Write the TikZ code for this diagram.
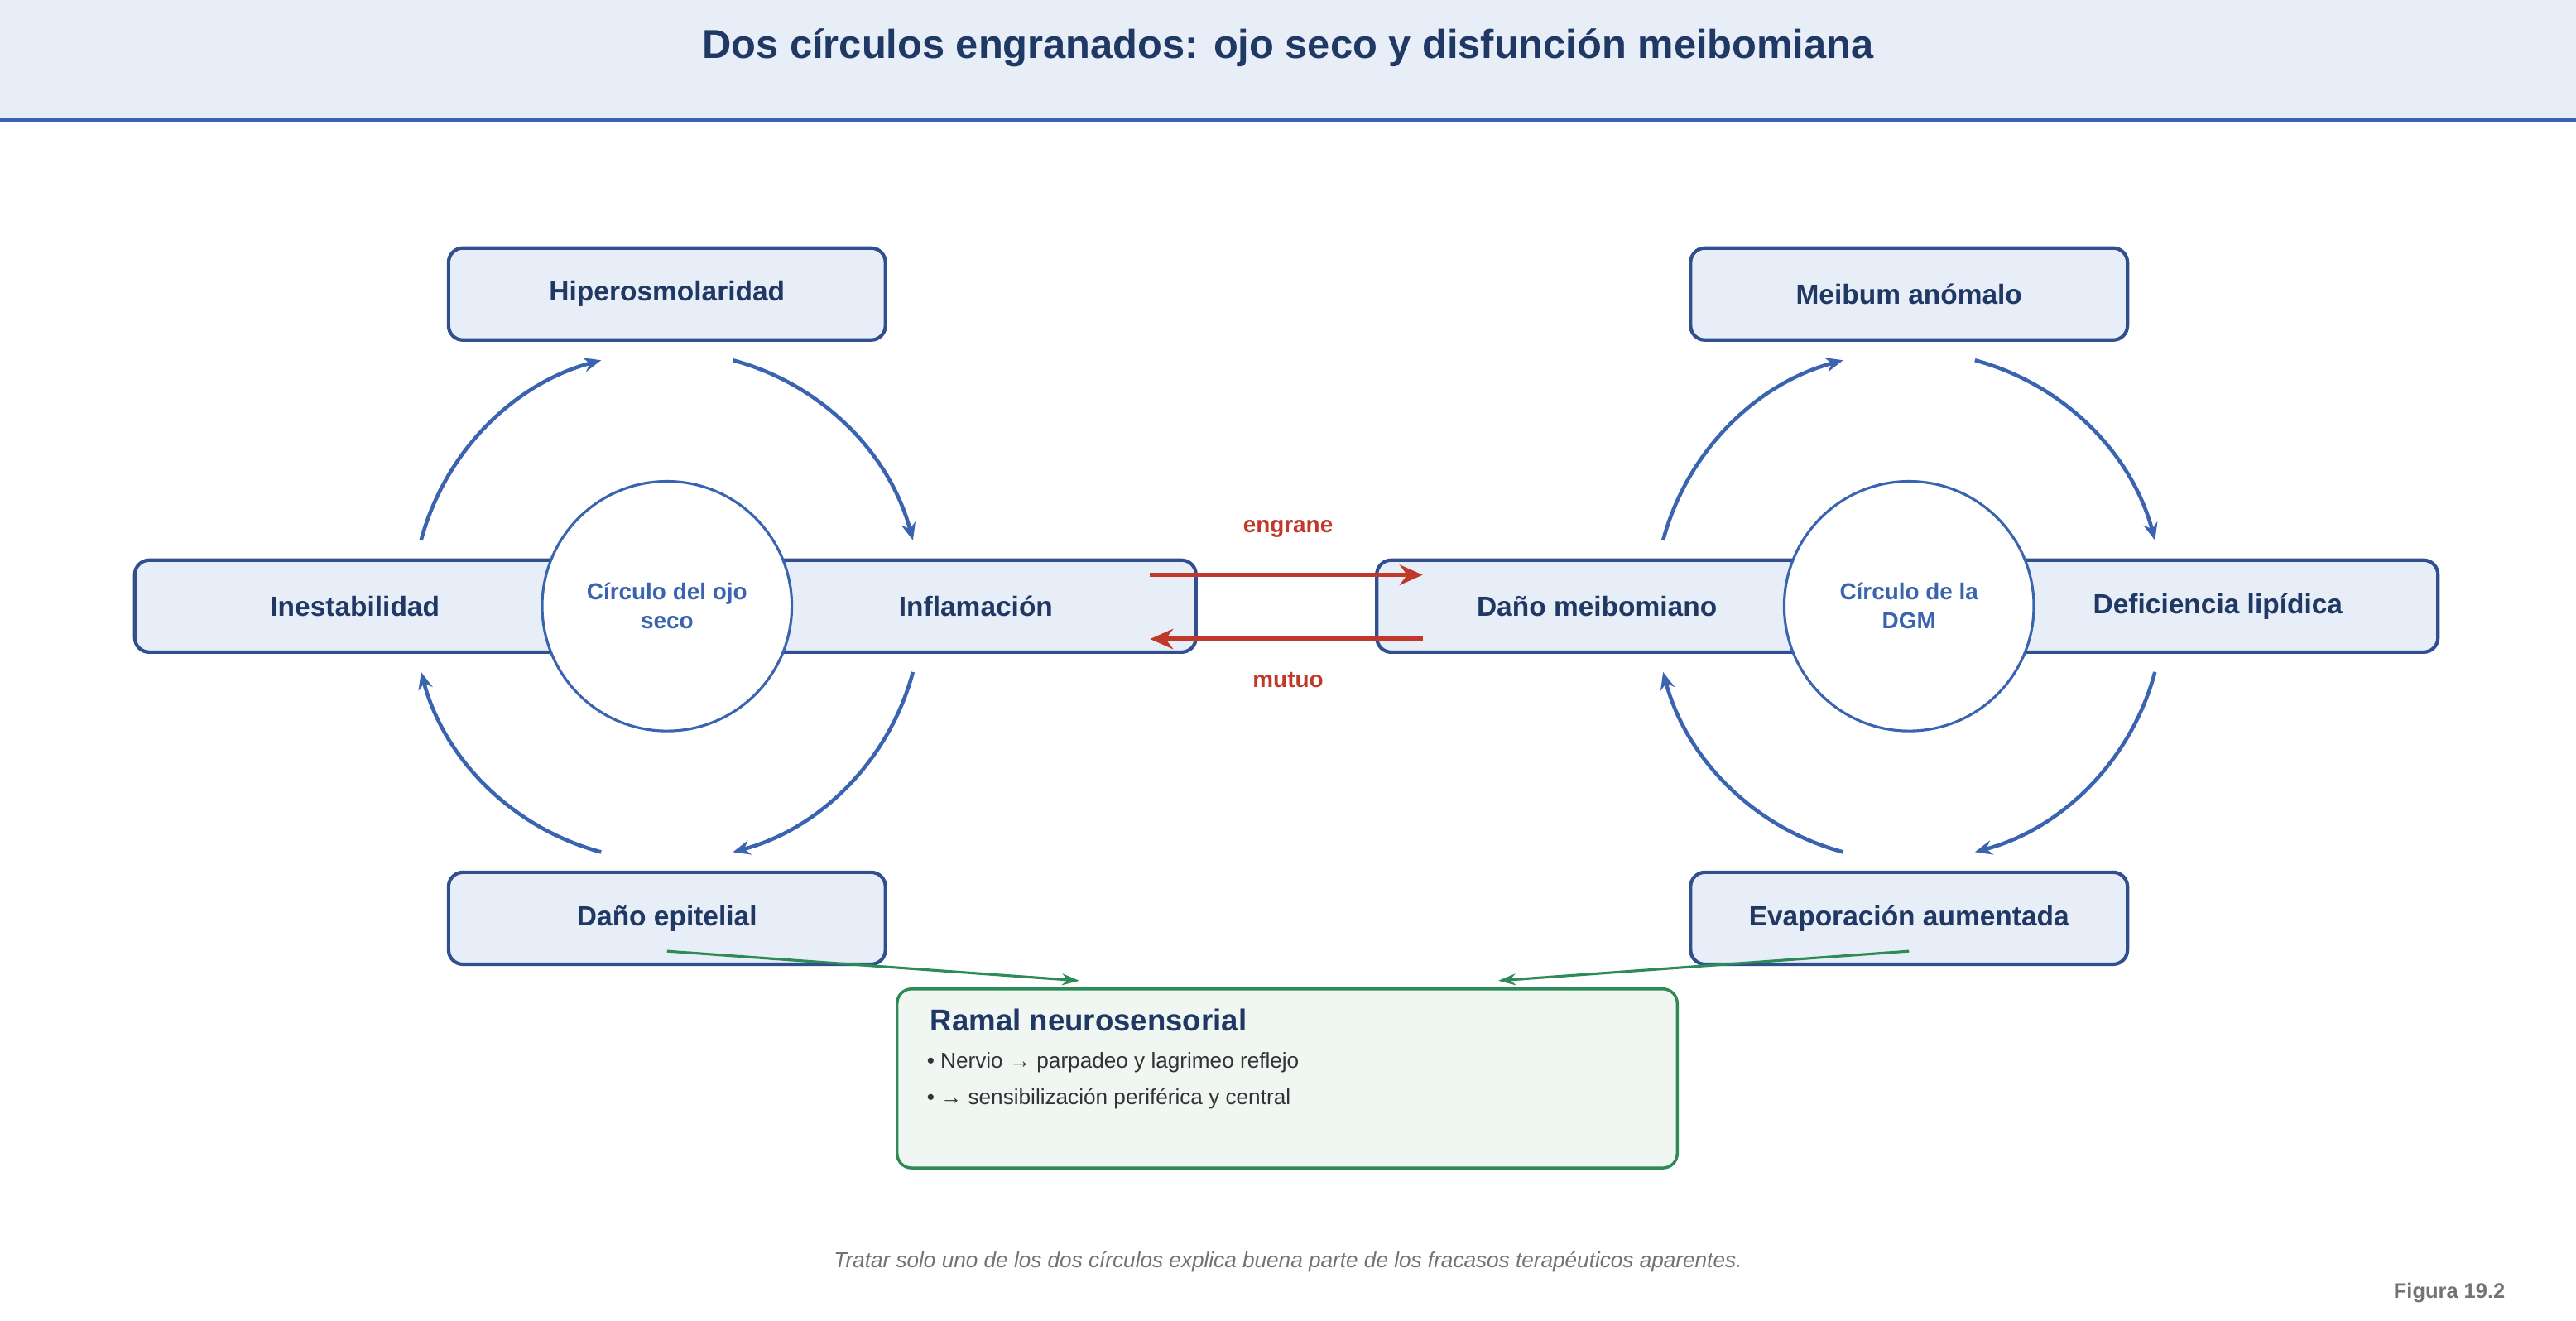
\documentclass[tikz,border=0pt]{standalone}
\usepackage{fontspec}
\setmainfont{Liberation Sans}
\usetikzlibrary{calc,arrows.meta}
\definecolor{navy}{HTML}{1F3864}
\definecolor{boxblue}{HTML}{2F4F8F}
\definecolor{arcblue}{HTML}{3A63B0}
\definecolor{paleblue}{HTML}{E8EEF7}
\definecolor{redarr}{HTML}{C0392B}
\definecolor{grn}{HTML}{2E8B57}
\definecolor{palegrn}{HTML}{F0F7F2}
\tikzset{
    stage/.style={draw=boxblue, line width=1.2pt, fill=paleblue, rounded corners=5pt,
        minimum width=5.32cm, minimum height=1.12cm, text=navy,
        font=\fontsize{9.6}{11}\selectfont\bfseries},
    hub/.style={circle, draw=arcblue, line width=0.9pt, fill=white, minimum size=3.04cm,
        align=center, text=arcblue, font=\fontsize{8}{10}\selectfont\bfseries},
    cyc/.style={draw=arcblue, line width=1.3pt, -{Stealth[length=6pt,width=5pt]}},
    gear/.style={draw=redarr, line width=1.5pt, -{Stealth[length=8pt,width=7pt]}},
    neuro/.style={draw=grn, line width=0.9pt, -{Stealth[length=6pt,width=4pt]}}
}
\begin{document}
\begin{tikzpicture}[x=0.02cm, y=0.02cm]
\useasboundingbox (0,0) rectangle (1568,804);

% title band
\fill[paleblue] (0,731) rectangle (1568,804);
\draw[arcblue, line width=1.3pt] (0,731) -- (1568,731);
\node[text=navy, font=\fontsize{14}{17}\selectfont\bfseries] (title) at (784,775)
    {Dos círculos engranados: ojo seco y disfunción meibomiana};

% left circle
\node[stage] (hiper) at (406,625) {Hiperosmolaridad};
\node[stage, minimum width=5.36cm] (inest) at (216,435) {Inestabilidad};
\node[stage, minimum width=5.36cm] (infl) at (594,435) {Inflamación};
\node[stage] (epit) at (406,245) {Daño epitelial};
\node[hub] (ojo) at (406,435) {Círculo del ojo\\seco};

% right circle
\node[stage] (meib) at (1162,625) {Meibum anómalo};
\node[stage, minimum width=5.36cm] (danom) at (972,435) {Daño meibomiano};
\node[stage, minimum width=5.36cm] (lipid) at (1350,435) {Deficiencia lipídica};
\node[stage] (evap) at (1162,245) {Evaporación aumentada};
\node[hub] (dgm) at (1162,435) {Círculo de la\\DGM};

% cycle arcs
\foreach \c in {ojo,dgm}{
    \foreach \a in {165,75,-15,-105}{
        \draw[cyc] ($(\c.center)+(\a:3.1cm)$) arc[start angle=\a, end angle=\a-60, radius=3.1cm];
    }
}

% gearing arrows
\coordinate (gl1) at (700,454);
\coordinate (gr1) at (866,454);
\coordinate (gl2) at (700,415);
\coordinate (gr2) at (866,415);
\draw[gear] (gl1) -- (gr1);
\draw[gear] (gr2) -- (gl2);
\node[text=redarr, font=\fontsize{8}{10}\selectfont\bfseries] (engr) at (784,482) {engrane};
\node[text=redarr, font=\fontsize{8}{10}\selectfont\bfseries] (mutuo) at (784,390) {mutuo};

% neurosensory branch
\node[draw=grn, line width=1pt, fill=palegrn, rounded corners=5pt,
    minimum width=9.5cm, minimum height=2.18cm] (ramal) at (783.5,147.5) {};
\node[anchor=west, text=navy, font=\fontsize{10.5}{12}\selectfont\bfseries] (ramalt) at (560,183) {Ramal neurosensorial};
\node[anchor=west, text=black!80, font=\fontsize{7.5}{9}\selectfont] (b1) at (558,157) {• Nervio → parpadeo y lagrimeo reflejo};
\node[anchor=west, text=black!80, font=\fontsize{7.5}{9}\selectfont] (b2) at (558,135) {• → sensibilización periférica y central};
\coordinate (ne1) at (406,225);
\coordinate (ne2) at (657,207);
\coordinate (nd1) at (1162,225);
\coordinate (nd2) at (912,207);
\draw[neuro] (ne1) -- (ne2);
\draw[neuro] (nd1) -- (nd2);

% caption
\node[text=black!55, font=\fontsize{7.5}{9}\selectfont\itshape] (cap) at (784,36)
    {Tratar solo uno de los dos círculos explica buena parte de los fracasos terapéuticos aparentes.};
\node[anchor=east, text=black!55, font=\fontsize{7.3}{9}\selectfont\bfseries] (fig) at (1531,17) {Figura 19.2};
\end{tikzpicture}
\end{document}
